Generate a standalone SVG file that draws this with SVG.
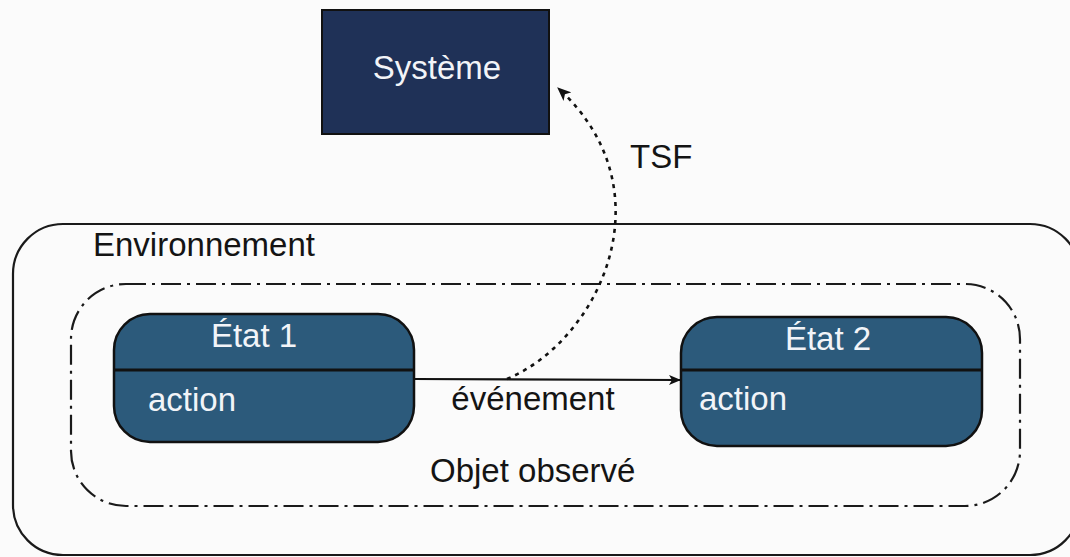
<svg xmlns="http://www.w3.org/2000/svg" width="1070" height="557" viewBox="0 0 1070 557">
  <style>
    .lbl { font-family: "Liberation Sans", Arial, sans-serif; font-size: 33px; fill: #141414; }
    .wlbl { font-family: "Liberation Sans", Arial, sans-serif; font-size: 33px; fill: #f2f4f8; }
    .state { fill: #2c5a7b; stroke: #111; stroke-width: 2.5; }
    .divider { stroke: #111; stroke-width: 3; }
    .frame { fill: none; stroke: #1a1a1a; stroke-width: 2.2; }
    .dashdot { fill: none; stroke: #1a1a1a; stroke-width: 2.2; stroke-dasharray: 20 6 3 6; }
  </style>
  <defs>
    <marker id="arrow" viewBox="0 0 12 10" refX="11" refY="5" markerWidth="12" markerHeight="10" markerUnits="userSpaceOnUse" orient="auto">
      <path d="M0,0 L12,5 L0,10 L3,5 z" fill="#111"/>
    </marker>
    <marker id="arrowDot" viewBox="0 0 12 10" refX="11" refY="5" markerWidth="14" markerHeight="12" markerUnits="userSpaceOnUse" orient="auto">
      <path d="M0,0 L12,5 L0,10 L3,5 z" fill="#111"/>
    </marker>
  </defs>

  <rect x="0" y="0" width="1070" height="557" fill="#fbfbfb"/>

  <!-- Environment container -->
  <g id="environnement">
    <rect class="frame" x="13" y="224" width="1067" height="331" rx="50" ry="50"/>
    <text class="lbl" x="93" y="256">Environnement</text>
  </g>

  <!-- Observed object boundary -->
  <g id="objet-observe">
    <rect class="dashdot" x="71" y="284" width="949" height="222" rx="55" ry="55"/>
    <text class="lbl" x="430" y="482">Objet observé</text>
  </g>

  <!-- System block -->
  <g id="systeme">
    <rect x="322" y="10" width="227" height="124" fill="#1f3157" stroke="#111" stroke-width="2"/>
    <text class="wlbl" x="437" y="79" text-anchor="middle">Système</text>
  </g>

  <!-- State 1 -->
  <g id="etat1">
    <rect class="state" x="114" y="314" width="300" height="128" rx="36" ry="36"/>
    <line class="divider" x1="114" y1="370" x2="414" y2="370"/>
    <text class="wlbl" x="254" y="347" text-anchor="middle">État 1</text>
    <text class="wlbl" x="148" y="411">action</text>
  </g>

  <!-- State 2 -->
  <g id="etat2">
    <rect class="state" x="681" y="317" width="301" height="129" rx="36" ry="36"/>
    <line class="divider" x1="681" y1="370" x2="982" y2="370"/>
    <text class="wlbl" x="828" y="350" text-anchor="middle">État 2</text>
    <text class="wlbl" x="699" y="410">action</text>
  </g>

  <!-- Connectors -->
  <g id="connectors">
    <line x1="414" y1="379" x2="680" y2="380" stroke="#111" stroke-width="2.2" marker-end="url(#arrow)"/>
    <text class="lbl" x="533" y="410" text-anchor="middle">événement</text>
    <path d="M507,379 C600,340 670,190 558,88" fill="none" stroke="#111" stroke-width="2.6" stroke-dasharray="4 5" marker-end="url(#arrowDot)"/>
    <text class="lbl" x="630" y="168">TSF</text>
  </g>
</svg>
